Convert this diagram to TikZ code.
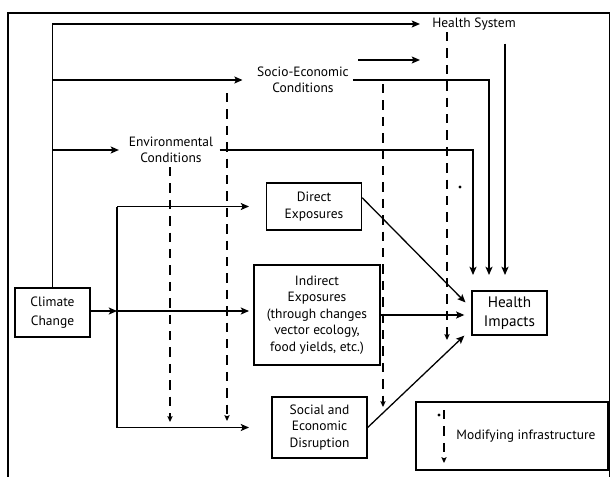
\documentclass[tikz,border=0pt]{standalone}
\usepackage{fontspec}
\setmainfont{PT Sans}
\usetikzlibrary{arrows.meta,positioning,calc}

\begin{document}
\begin{tikzpicture}[
        x=0.03cm, y=-0.03cm,
        line width=1.1pt,
        >={Stealth[length=7pt,width=6pt,inset=1.5pt]},
        font=\fontsize{11.5}{14}\selectfont,
        box/.style={rectangle, draw, line width=1.1pt, align=center, inner sep=2pt},
        lbl/.style={align=center, inner sep=0pt},
        infra/.style={->, line width=0.9pt, dash pattern=on 8pt off 6pt,
            >={Stealth[length=5pt,width=4.5pt,inset=1pt]}}
    ]
        \useasboundingbox (0,0) rectangle (610,477);
        \draw (8,478) -- (8,13) -- (609.5,13) -- (609.5,478);

        % nodes
        \node[box, minimum width=2.25cm, minimum height=1.47cm,
            font=\fontsize{11.5}{16}\selectfont] (cc) at (52.5,312.5) {Climate\\Change};
        \node[lbl] (hs) at (474,24) {Health System};
        \node[lbl] (se) at (303,80) {Socio-Economic\\Conditions};
        \node[lbl] (ec) at (171,150) {Environmental\\Conditions};
        \node[box, minimum width=2.85cm, minimum height=1.41cm] (de) at (314,206.5) {Direct\\Exposures};
        \node[box, minimum width=3.78cm, minimum height=3cm] (ie) at (317,315) {Indirect\\Exposures\\(through changes\\vector ecology,\\food yields, etc.)};
        \node[box, minimum width=2.85cm, minimum height=1.83cm] (sed) at (319.5,427.5) {Social and\\Economic\\Disruption};
        \node[box, minimum width=2.25cm, minimum height=1.32cm,
            font=\fontsize{13}{16}\selectfont] (hi) at (509.5,313) {Health\\Impacts};

        \coordinate (split) at (117,311);
        \coordinate (tipx) at (249,0);
        \coordinate (envin) at (473,275);
        \coordinate (sein) at (489,275);
        \coordinate (hsin) at (505,275);
        \coordinate (fb) at (358,60);

        % climate change to the conditions
        \draw[->, shorten >=10pt] (cc.north) |- (hs.west);
        \draw[->, shorten >=12pt] (cc.north |- se.west) -- (se.west);
        \draw[->, shorten >=8pt] (cc.north |- ec.west) -- (ec.west);
        \draw[->, shorten >=10pt] (fb) -- (fb -| hs.west);

        % conditions down to health impacts
        \draw[->, shorten <=5pt] (ec.east) -| (envin);
        \draw[->, shorten <=3pt] (se.east) -| (sein);
        \draw[->, shorten <=11pt] (hs.south -| hsin) -- (hsin);

        % exposure pathways
        \draw[->] (cc.east |- split) -- (split);
        \draw (split |- de) -- (split |- sed);
        \draw[->] (split |- de) -- (tipx |- de);
        \draw[->] (split) -- (tipx |- split);
        \draw[->] (split |- sed) -- (tipx |- sed);

        \draw[->] ([yshift=7.5pt]de.east) -- ([xshift=-5pt,yshift=9pt]hi.west);
        \draw[->, shorten >=6pt] (ie.east) -- (ie.east -| hi.west);
        \draw[->] (sed.east) -- ([xshift=-6pt]hi.south west);

        % modifying infrastructure
        \foreach \x/\ya/\yb in {170/167/422, 227/93/421, 383/84/407, 447/32/340}
            \draw[infra] (\x,\ya) -- (\x,\yb);
        \fill (460,187) circle[radius=1.3pt];

        % legend
        \node[box, minimum width=5.76cm, minimum height=2.04cm] (leg) at (512,436) {};
        \node[lbl] (legtxt) at (526,436) {Modifying infrastructure};
        \fill (439,415) circle[radius=1.3pt];
        \draw[infra] (444,410) -- (444,463);
    \end{tikzpicture}
\end{document}
